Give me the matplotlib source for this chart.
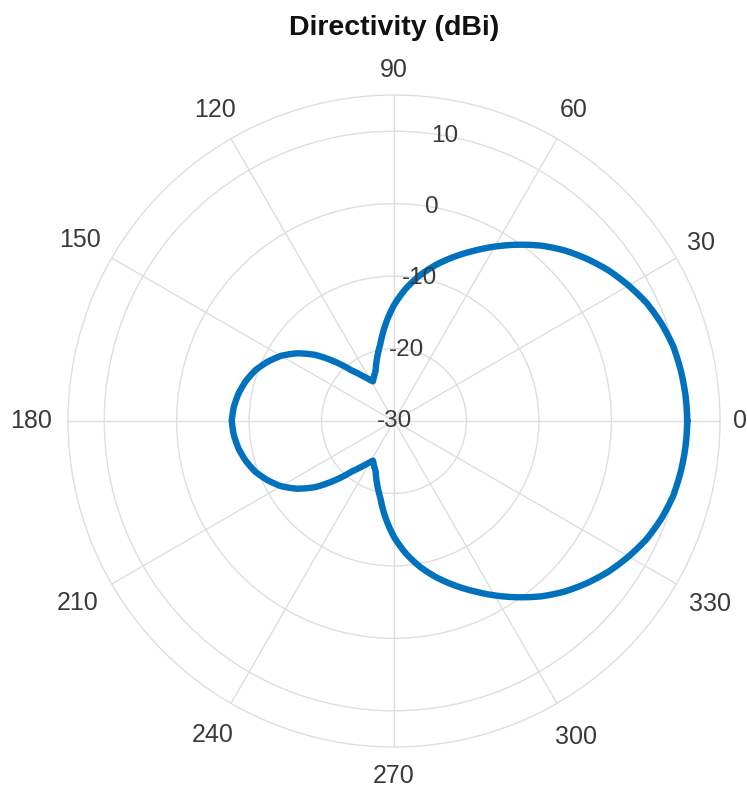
import numpy as np
import matplotlib
matplotlib.use("Agg")
import matplotlib.pyplot as plt

plt.rcParams['font.family'] = ['Liberation Sans', 'DejaVu Sans']

# Angles (degrees) and directivity (dBi)
angles_deg = [0, 5, 10, 15, 20, 25, 30, 35, 40, 45, 50, 55, 60, 65, 70, 75, 80, 85,
              90, 95, 100, 105, 110, 115, 118, 120, 125, 130, 135, 140, 145, 150, 155,
              160, 165, 170, 175, 180,
              185, 190, 195, 200, 205, 210, 215, 220, 225, 230, 235, 240, 242, 245,
              250, 255, 260, 265, 270, 275, 280, 285, 290, 295, 300, 305, 310,
              315, 320, 325, 330, 335, 340, 345, 350, 355, 360]
directivity_dbi = [10.5, 10.4, 10.2, 9.9, 9.3, 8.5, 7.4, 6.2, 4.8, 3.3, 1.6, -0.3,
                   -2.2, -4.1, -5.9, -7.7, -9.6, -11.7, -14.0, -16.6, -19.2, -21.0,
                   -22.6, -23.4, -23.8, -23.5, -22.4, -20.9, -18.4, -15.8, -13.7, -12.0,
                   -10.7, -9.6, -8.8, -8.2, -7.8, -7.6,
                   -7.8, -8.2, -8.8, -9.6, -10.7, -12.0, -13.7, -15.8, -18.4, -20.9,
                   -22.4, -23.5, -23.8, -23.4, -22.6, -21.0, -19.2, -16.6, -14.0, -11.7,
                   -9.6, -7.7, -5.9, -4.1, -2.2, -0.3, 1.6, 3.3, 4.8, 6.2, 7.4, 8.5,
                   9.3, 9.9, 10.2, 10.4, 10.5]

theta_ticks = [0, 30, 60, 90, 120, 150, 180, 210, 240, 270, 300, 330]
theta_labels = ['0', '30', '60', '90', '120', '150', '180', '210', '240', '270', '300', '330']
r_ticks = [-30, -20, -10, 0, 10]
r_labels = ['-30', '-20', '-10', '0', '10']
r_min, r_max = -30, 15
title = 'Directivity (dBi)'

W, H = 747, 788
cx, cy, R = 394, 421, 326
fig = plt.figure(figsize=(W / 100, H / 100), dpi=100)
ax = fig.add_axes([(cx - R) / W, (H - cy - R) / H, 2 * R / W, 2 * R / H], projection='polar')

grid_col = '#dedede'
ax.set_ylim(r_min, r_max)
ax.set_yticks(r_ticks[1:])
ax.set_yticklabels([])
ax.set_xticks(np.deg2rad(theta_ticks))
ax.set_xticklabels([])
ax.tick_params(length=0)
ax.grid(True, color=grid_col, linewidth=1.0)
ax.spines['polar'].set_color(grid_col)
ax.spines['polar'].set_linewidth(1.0)

line, = ax.plot(np.deg2rad(angles_deg), directivity_dbi, color='#0072BD', linewidth=4.6,
                solid_joinstyle='round', solid_capstyle='round', zorder=3)
line.get_path()._interpolation_steps = 20

# radial labels along ~80 deg
lab_ang = np.deg2rad(80)
for v, s in zip(r_ticks, r_labels):
    if v == r_min:
        ax.text(0, r_min, s, ha='center', va='center', fontsize=17.5, color='#3a3a3a', zorder=5)
    else:
        ax.text(lab_ang, v, s, ha='center', va='center', fontsize=17.5, color='#3a3a3a', zorder=5)

# angle labels
label_r_px = [346, 355, 359, 351, 359, 362, 363, 365, 363, 355, 365, 365]
scale = (r_max - r_min) / R
for a, s, rp in zip(theta_ticks, theta_labels, label_r_px):
    ax.text(np.deg2rad(a), r_min + rp * scale, s, ha='center', va='center',
            fontsize=18, color='#3a3a3a', clip_on=False)

fig.text(cx / W, 1 - 28 / H, title, ha='center', va='center', fontsize=20.5,
         fontweight='bold', color='#111111')

fig.savefig('out.png', dpi=100)
